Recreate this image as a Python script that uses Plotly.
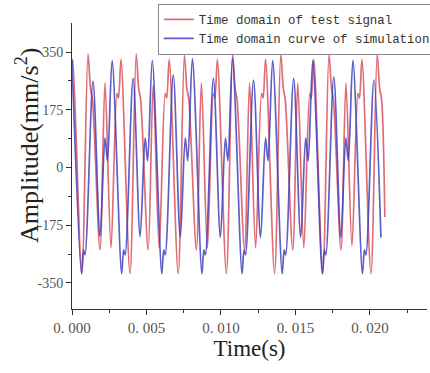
import plotly.graph_objects as go

# Time (ms) and amplitude (mm/s^2) (extrema / turning points)
test_t_ms = [0.000, 0.054, 0.658,
             1.074, 1.242, 1.376, 1.879, 2.215, 2.618, 3.020, 3.121, 3.289, 3.893,
             4.309, 4.477, 4.611, 5.114, 5.450, 5.853, 6.255, 6.356, 6.524, 7.128,
             7.544, 7.712, 7.846, 8.349, 8.685, 9.088, 9.490, 9.591, 9.759, 10.363,
             10.779, 10.947, 11.081, 11.584, 11.920, 12.323, 12.725, 12.826, 12.994, 13.598,
             14.014, 14.182, 14.316, 14.819, 15.155, 15.558, 15.960, 16.061, 16.229, 16.833,
             17.249, 17.417, 17.551, 18.054, 18.390, 18.793, 19.195, 19.296, 19.464, 20.068,
             20.484, 20.652, 20.786, 21.000]
test_amp = [315, 328, -322,
            344, 240, 205, -250, 256, -244, 225, 210, 328, -322,
            344, 240, 205, -250, 250, -244, 225, 210, 328, -322,
            340, 240, 205, -250, 256, -244, 225, 210, 328, -322,
            344, 240, 205, -250, 256, -244, 225, 210, 328, -322,
            344, 240, 205, -250, 256, -244, 225, 210, 328, -322,
            344, 240, 205, -250, 256, -238, 225, 210, 328, -322,
            344, 240, 205, -150]

sim_t_ms = [0.000, 0.638, 0.772, 0.872, 1.409, 1.879, 2.215, 2.383,
            2.694, 3.332, 3.466, 3.566, 4.103, 4.573, 4.909, 5.077,
            5.388, 6.026, 6.160, 6.260, 6.797, 7.267, 7.603, 7.771,
            8.082, 8.720, 8.854, 8.954, 9.491, 9.961, 10.297, 10.465,
            10.776, 11.414, 11.548, 11.648, 12.185, 12.655, 12.991, 13.159,
            13.470, 14.108, 14.242, 14.342, 14.879, 15.349, 15.685, 15.853,
            16.164, 16.802, 16.936, 17.036, 17.573, 18.043, 18.379, 18.547,
            18.858, 19.496, 19.630, 19.730, 20.267, 20.737]
sim_amp = [325, -322, -250, -265, 262, -208, 90, 20,
           325, -322, -250, -265, 270, -210, 90, 20,
           325, -322, -250, -265, 281, -212, 90, 20,
           330, -322, -250, -265, 270, -212, 90, 20,
           330, -322, -250, -265, 265, -212, 90, 20,
           325, -322, -250, -265, 270, -212, 90, 20,
           325, -322, -250, -265, 275, -212, 90, 20,
           325, -322, -250, -265, 265, -212]

x_tick_vals = [0.000, 0.005, 0.010, 0.015, 0.020]
x_tick_text = ["0. 000", "0. 005", "0. 010", "0. 015", "0. 020"]
y_tick_vals = [350, 175, 0, -175, -350]
y_tick_text = ["350", "175", "0", "-175", "-350"]

fig = go.Figure()
fig.add_trace(go.Scatter(
    x=[t / 1000 for t in test_t_ms], y=test_amp, mode="lines",
    name="Time domain of test signal",
    line=dict(color="rgba(218,84,94,0.85)", width=1.7, shape="spline", smoothing=0.9),
))
fig.add_trace(go.Scatter(
    x=[t / 1000 for t in sim_t_ms], y=sim_amp, mode="lines",
    name="Time domain curve of simulation",
    line=dict(color="rgba(66,66,192,0.85)", width=1.7, shape="spline", smoothing=0.9),
))

serif = "Liberation Serif, Times New Roman, serif"
fig.update_layout(
    width=430, height=373,
    margin=dict(l=72, r=3, t=23, b=64, autoexpand=False),
    paper_bgcolor="white", plot_bgcolor="white",
    showlegend=True,
    legend=dict(
        xref="container", yref="container",
        x=0.367, xanchor="left", y=0.99, yanchor="top",
        font=dict(family="Liberation Mono, monospace", size=12.4, color="#333"),
        bgcolor="white", bordercolor="#888", borderwidth=1,
        itemwidth=30, tracegroupgap=0,
    ),
    xaxis=dict(
        range=[0, 0.02383], automargin=False,
        tickmode="array", tickvals=x_tick_vals, ticktext=x_tick_text,
        ticks="outside", ticklen=5, tickcolor="#333", tickwidth=1,
        minor=dict(dtick=0.0025, tick0=0, ticks="outside", ticklen=3, tickcolor="#333"),
        showline=True, linecolor="#333", linewidth=1, showgrid=False, zeroline=False,
        tickfont=dict(family=serif, size=15, color="#555"),
        title=dict(text="Time(s)", font=dict(family=serif, size=23, color="#222"), standoff=4),
    ),
    yaxis=dict(
        range=[-429, 438], automargin=False,
        tickmode="array", tickvals=y_tick_vals, ticktext=y_tick_text,
        ticks="outside", ticklen=5, tickcolor="#333", tickwidth=1,
        minor=dict(tickvals=[-262.5, -87.5, 87.5, 262.5], ticks="outside", ticklen=3, tickcolor="#333"),
        showline=True, linecolor="#333", linewidth=1, showgrid=False, zeroline=False,
        tickfont=dict(family=serif, size=14, color="#555"),
    ),
    annotations=[dict(
        text="Amplitude(mm/s<sup>2</sup>)", textangle=-90,
        xref="paper", yref="paper", x=-0.127, y=0.573,
        xanchor="center", yanchor="middle", showarrow=False,
        font=dict(family=serif, size=26, color="#222"),
    )],
)

fig.write_html(
    "out.html",
    config={"displayModeBar": False},
    post_script="document.body.style.margin='0';document.body.style.padding='0';",
)
